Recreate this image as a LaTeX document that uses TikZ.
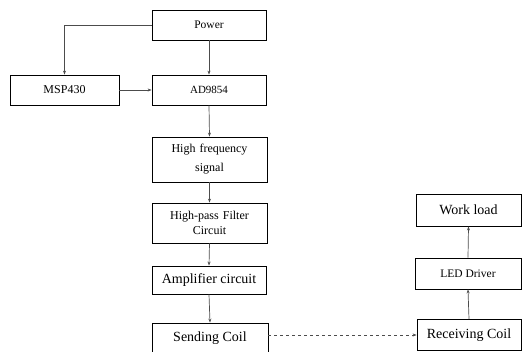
\documentclass[tikz,border=0pt]{standalone}
\usepackage{fontspec}
\setmainfont{Liberation Serif}
\usepackage{tikz}
\usetikzlibrary{arrows.meta,positioning}

\newcommand{\fs}[2][14]{\fontsize{#2}{#1}\selectfont}

\begin{document}
\begin{tikzpicture}[x=1pt,y=-1pt,>={Stealth[length=4pt,width=3pt]},
    blk/.style={draw,line width=0.8pt,inner sep=0pt,align=center},
    lnk/.style={->,line width=0.7pt,draw=black!70}]
    \useasboundingbox (0,0) rectangle (522,352);
    % source side
    \node[blk,minimum width=114,minimum height=30,font=\fs{11.5}] (power) at (209,25) {Power};
    \node[blk,minimum width=109,minimum height=30,font=\fs{12}] (msp) at (64.5,90) {MSP430};
    \node[blk,minimum width=114,minimum height=30,font=\fs{11}] (ad) at (209,90) {AD9854};
    \node[blk,minimum width=115,minimum height=45,font={\fs[19]{12}},text width=110] (hfsig) at (209.5,159.5)
        {High frequency\\signal};
    \node[blk,minimum width=115,minimum height=40,font={\fs[15]{12}},text width=110] (hpf) at (209.5,223)
        {High-pass Filter\\Circuit};
    \node[blk,minimum width=114,minimum height=28,font=\fs{14}] (amp) at (209,280) {Amplifier circuit};
    \node[blk,minimum width=116,minimum height=31,font=\fs{14}] (send) at (210,338.5) {Sending Coil};
    % load side
    \node[blk,minimum width=105,minimum height=32,font=\fs{14}] (load) at (468.5,210) {Work load};
    \node[blk,minimum width=106,minimum height=31,font=\fs{11.5}] (led) at (468,273.5) {LED Driver};
    \node[blk,minimum width=104,minimum height=31,font=\fs{14}] (recv) at (469,335) {Receiving Coil};
    % links
    \draw[lnk] (power.west) -| (msp.north);
    \draw[lnk] (power.south) -- (ad.north);
    \draw[lnk] (msp.east) -- (ad.west);
    \draw[lnk] (ad.south) -- (hfsig.north);
    \draw[lnk] (hfsig.south) -- (hpf.north);
    \draw[lnk] (hpf.south) -- (amp.north);
    \draw[lnk] (amp.south) -- (send.north);
    \draw[lnk,dashed] (recv.west -| send.east) -- (recv.west);
    \draw[lnk] (recv.north) -- (led.south);
    \draw[lnk] (led.north) -- (load.south);
\end{tikzpicture}
\end{document}
